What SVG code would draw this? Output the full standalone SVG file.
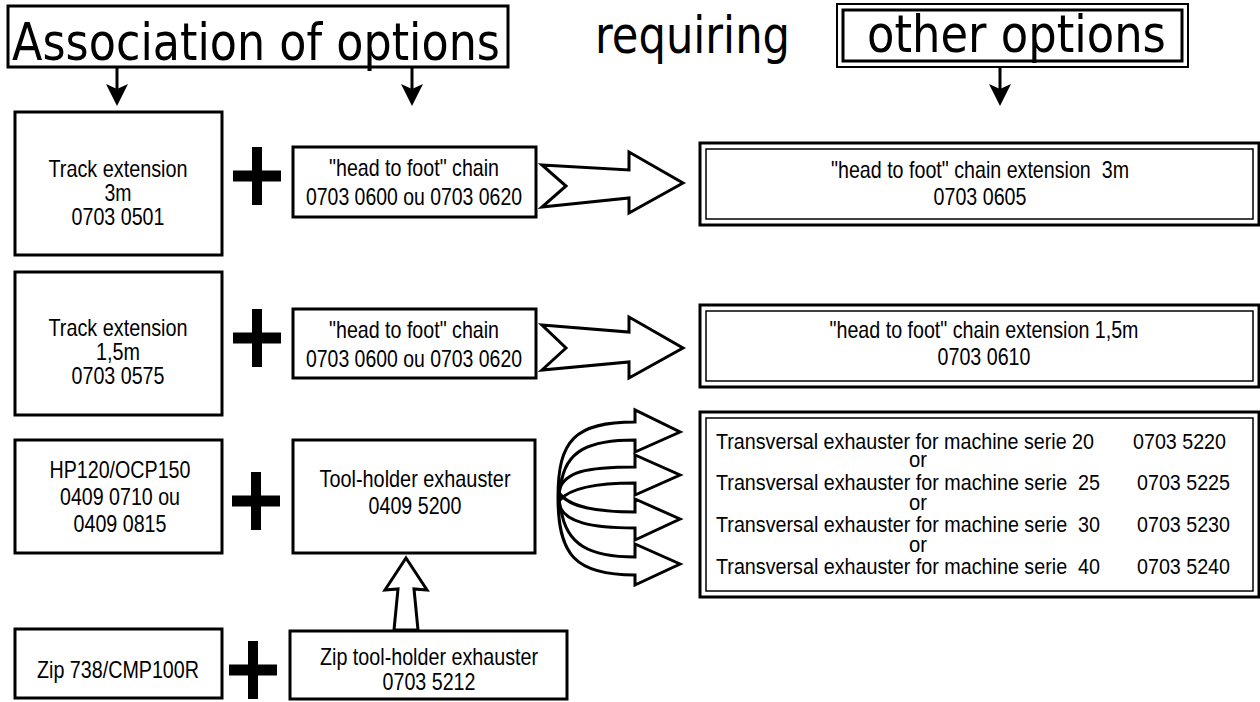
<svg xmlns="http://www.w3.org/2000/svg" width="1260" height="702" viewBox="0 0 1260 702">
<style>
.box{fill:#fff;stroke:#000;stroke-width:3}
.inner{fill:none;stroke:#000;stroke-width:1.5}
.t{font-family:"Liberation Sans Narrow","Liberation Sans",Arial,sans-serif;font-size:24px;fill:#000;white-space:pre}
.s{font-size:21.5px}
.c{text-anchor:middle}
.h{font-family:"DejaVu Sans","Open Sans",sans-serif;font-size:52px;fill:#000}
.blk{fill:#fff;stroke:#000;stroke-width:3;stroke-linejoin:miter}
.fan{fill:none;stroke:#000;stroke-width:3;stroke-linejoin:miter}
.stem{stroke:#000;stroke-width:3;fill:none}
</style>
<defs>
<marker id="ah" markerUnits="userSpaceOnUse" markerWidth="22" markerHeight="22" viewBox="0 0 22 22" refX="11" refY="11" orient="auto">
<path d="M0,0 L22,11 L0,22 L5,11 Z" fill="#000"/>
</marker>
<g id="plus">
<rect x="-24" y="-5.5" width="48" height="11" fill="#000"/>
<rect x="-5" y="-29" width="10" height="58" fill="#000"/>
</g>
</defs>
<rect width="1260" height="702" fill="#fff"/>

<g id="title-association">
<rect class="box" x="8" y="6" width="500" height="61"/>
<text class="h" x="12" y="60" textLength="488" lengthAdjust="spacingAndGlyphs">Association of options</text>
</g>
<g id="title-requiring">
<text class="h" x="595" y="53" textLength="195" lengthAdjust="spacingAndGlyphs">requiring</text>
</g>
<g id="title-other">
<rect class="box" x="837" y="4" width="351" height="63" style="stroke-width:2"/>
<rect class="box" x="843" y="10" width="339" height="51"/>
<text class="h" x="867" y="52" textLength="299" lengthAdjust="spacingAndGlyphs">other options</text>
</g>

<g id="track-3m">
<rect class="box" x="15" y="112" width="207" height="143"/>
<text class="t c" x="118" y="177" textLength="139" lengthAdjust="spacingAndGlyphs">Track extension</text>
<text class="t c" x="118" y="201" textLength="27" lengthAdjust="spacingAndGlyphs">3m</text>
<text class="t c" x="118" y="225" textLength="93" lengthAdjust="spacingAndGlyphs">0703 0501</text>
</g>
<g id="chain-1">
<rect class="box" x="293" y="147" width="243" height="70"/>
<text class="t c" x="414" y="176" textLength="170" lengthAdjust="spacingAndGlyphs">"head to foot" chain</text>
<text class="t c" x="414" y="205" textLength="216" lengthAdjust="spacingAndGlyphs">0703 0600 ou 0703 0620</text>
</g>
<g id="chain-ext-3m">
<rect class="box" x="700" y="143" width="559" height="82"/>
<rect class="inner" x="706" y="149" width="547" height="70"/>
<text class="t c" x="980" y="178" textLength="298" lengthAdjust="spacingAndGlyphs">"head to foot" chain extension  3m</text>
<text class="t c" x="980" y="205" textLength="93" lengthAdjust="spacingAndGlyphs">0703 0605</text>
</g>

<g id="track-1-5m">
<rect class="box" x="15" y="272" width="207" height="143"/>
<text class="t c" x="118" y="336" textLength="139" lengthAdjust="spacingAndGlyphs">Track extension</text>
<text class="t c" x="118" y="360" textLength="44" lengthAdjust="spacingAndGlyphs">1,5m</text>
<text class="t c" x="118" y="384" textLength="93" lengthAdjust="spacingAndGlyphs">0703 0575</text>
</g>
<g id="chain-2">
<rect class="box" x="293" y="309" width="243" height="69"/>
<text class="t c" x="414" y="338" textLength="170" lengthAdjust="spacingAndGlyphs">"head to foot" chain</text>
<text class="t c" x="414" y="367" textLength="216" lengthAdjust="spacingAndGlyphs">0703 0600 ou 0703 0620</text>
</g>
<g id="chain-ext-1-5m">
<rect class="box" x="700" y="305" width="559" height="82"/>
<rect class="inner" x="706" y="311" width="547" height="70"/>
<text class="t c" x="984" y="338" textLength="309" lengthAdjust="spacingAndGlyphs">"head to foot" chain extension 1,5m</text>
<text class="t c" x="984" y="365" textLength="93" lengthAdjust="spacingAndGlyphs">0703 0610</text>
</g>

<g id="hp120">
<rect class="box" x="15" y="440" width="207" height="113"/>
<text class="t c" x="120" y="478" textLength="141" lengthAdjust="spacingAndGlyphs">HP120/OCP150</text>
<text class="t c" x="120" y="505" textLength="120" lengthAdjust="spacingAndGlyphs">0409 0710 ou</text>
<text class="t c" x="120" y="532" textLength="93" lengthAdjust="spacingAndGlyphs">0409 0815</text>
</g>
<g id="tool-holder">
<rect class="box" x="293" y="440" width="242" height="113"/>
<text class="t c" x="415" y="487" textLength="191" lengthAdjust="spacingAndGlyphs">Tool-holder exhauster</text>
<text class="t c" x="415" y="514" textLength="93" lengthAdjust="spacingAndGlyphs">0409 5200</text>
</g>
<g id="transversal">
<rect class="box" x="700" y="412" width="559" height="185"/>
<rect class="inner" x="706" y="418" width="547" height="173"/>
<text class="t s" y="449"><tspan x="716" textLength="378" lengthAdjust="spacingAndGlyphs">Transversal exhauster for machine serie 20</tspan><tspan x="1133" textLength="93" lengthAdjust="spacingAndGlyphs">0703 5220</tspan></text>
<text class="t s" x="909" y="467" textLength="18" lengthAdjust="spacingAndGlyphs">or</text>
<text class="t s" y="490"><tspan x="716" textLength="384" lengthAdjust="spacingAndGlyphs">Transversal exhauster for machine serie  25</tspan><tspan x="1137" textLength="93" lengthAdjust="spacingAndGlyphs">0703 5225</tspan></text>
<text class="t s" x="909" y="510" textLength="18" lengthAdjust="spacingAndGlyphs">or</text>
<text class="t s" y="532"><tspan x="716" textLength="384" lengthAdjust="spacingAndGlyphs">Transversal exhauster for machine serie  30</tspan><tspan x="1137" textLength="93" lengthAdjust="spacingAndGlyphs">0703 5230</tspan></text>
<text class="t s" x="909" y="552" textLength="18" lengthAdjust="spacingAndGlyphs">or</text>
<text class="t s" y="574"><tspan x="716" textLength="384" lengthAdjust="spacingAndGlyphs">Transversal exhauster for machine serie  40</tspan><tspan x="1137" textLength="93" lengthAdjust="spacingAndGlyphs">0703 5240</tspan></text>
</g>

<g id="zip738">
<rect class="box" x="15" y="629" width="207" height="69"/>
<text class="t c" x="118" y="678" textLength="162" lengthAdjust="spacingAndGlyphs">Zip 738/CMP100R</text>
</g>
<g id="zip-tool-holder">
<rect class="box" x="290" y="631" width="277" height="68"/>
<text class="t c" x="429" y="665" textLength="218" lengthAdjust="spacingAndGlyphs">Zip tool-holder exhauster</text>
<text class="t c" x="429" y="690" textLength="93" lengthAdjust="spacingAndGlyphs">0703 5212</text>
</g>

<g id="plus-signs">
<use href="#plus" x="257" y="176"/>
<use href="#plus" x="257" y="338"/>
<use href="#plus" x="256" y="501"/>
<use href="#plus" x="253" y="670"/>
</g>

<g id="connectors">
<line class="stem" x1="117" y1="67" x2="117" y2="95" marker-end="url(#ah)"/>
<line class="stem" x1="412" y1="67" x2="412" y2="95" marker-end="url(#ah)"/>
<line class="stem" x1="1000" y1="67" x2="1000" y2="95" marker-end="url(#ah)"/>
<path class="blk" d="M542,165 L629,170 L629,152 L683,183 L629,213 L629,198 L542,207 L566,186 Z"/>
<path class="blk" d="M542,325 L629,332 L629,317 L683,348 L629,378 L629,362 L542,370 L566,348 Z"/>
<path class="blk" d="M406,558 L427,590 L414,589 L418,630 L394,630 L398,589 L385,590 Z"/>
<path class="fan" d="M558,497 C558,440 575,422 635,422 L635,410 L680,432 L635,452 L635,440 C590,440 565,450 561,485 Z"/>
<path class="fan" d="M559,490 C565,472 585,467 635,467 L635,455 L680,475 L635,495 L635,483 C595,483 570,488 560,500 Z"/>
<path class="fan" d="M560,494 C570,507 595,512 635,512 L635,499 L680,519 L635,540 L635,528 C590,528 565,522 559,505 Z"/>
<path class="fan" d="M561,509 C566,545 590,557 635,557 L635,544 L680,564 L635,585 L635,575 C575,575 558,555 558,497 Z"/>
</g>
</svg>
